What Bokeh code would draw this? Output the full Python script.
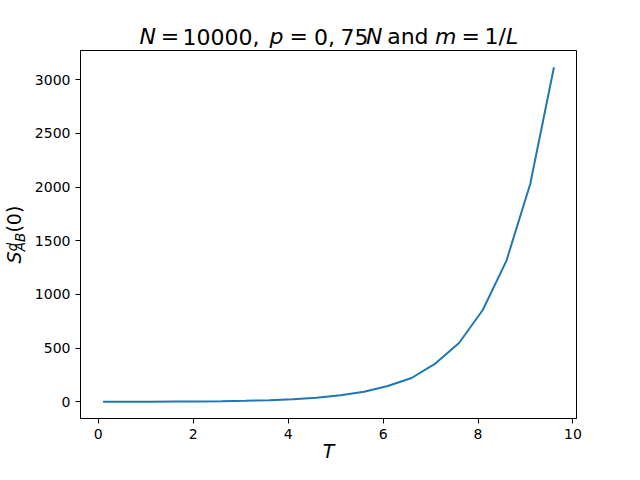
from math import pi
from bokeh.plotting import figure
from bokeh.models import Range1d, Label, FixedTicker
from bokeh.layouts import column, row
from bokeh.embed import file_html
from bokeh.resources import INLINE

# Data
T = [0.1, 0.6, 1.1, 1.6, 2.1, 2.6, 3.1, 3.6, 4.1, 4.6,
     5.1, 5.6, 6.1, 6.6, 7.1, 7.6, 8.1, 8.6, 9.1, 9.6]
S = [0.8, 1.2, 1.8, 2.8, 4.3, 6.7, 10.4, 16, 25, 39,
     61, 95, 148, 222, 356, 548, 855, 1315, 2028, 3115]
x_ticks = [0, 2, 4, 6, 8, 10]
y_ticks = [0, 500, 1000, 1500, 2000, 2500, 3000]

FONT = "DejaVu Sans"
W, H = 624, 464
TOP_H = 50      # strip holding the title
LEFT_W = 30     # strip holding the y label


def text_strip(width, height):
    f = figure(width=width, height=height, output_backend="svg", toolbar_location=None,
               x_axis_type=None, y_axis_type=None,
               x_range=Range1d(0, 1), y_range=Range1d(0, 1),
               min_border=0, min_border_left=0, min_border_right=0,
               min_border_top=0, min_border_bottom=0)
    f.title.visible = False
    f.outline_line_color = None
    f.background_fill_color = "white"
    f.border_fill_color = "white"
    return f


def lab(fig, text, x, y, size, italic, angle=0.0):
    fig.add_layout(Label(x=x, y=y, x_units="screen", y_units="screen", text=text,
                         text_font=FONT, text_font_size=size,
                         text_font_style="italic" if italic else "normal",
                         text_color="black", text_align="left",
                         text_baseline="alphabetic", angle=angle))


# ---- main plot
xspan = max(T) - min(T)
yspan = max(S) - min(S)
p = figure(width=W - LEFT_W, height=H - TOP_H, output_backend="svg", toolbar_location=None,
           x_range=Range1d(min(T) - 0.05 * xspan, max(T) + 0.05 * xspan),
           y_range=Range1d(min(S) - 0.05 * yspan, max(S) + 0.05 * yspan),
           min_border_left=50, min_border_right=48, min_border_top=0, min_border_bottom=45)
p.title.visible = False
p.background_fill_color = "white"
p.border_fill_color = "white"
p.outline_line_color = "black"
p.outline_line_width = 1
p.grid.visible = False

for ax in (p.xaxis[0], p.yaxis[0]):
    ax.axis_line_color = "black"
    ax.major_tick_line_color = "black"
    ax.major_tick_out = 5
    ax.major_tick_in = 0
    ax.minor_tick_line_color = None
    ax.major_label_text_font = FONT
    ax.major_label_text_font_size = "14px"
    ax.major_label_text_color = "black"
    ax.major_label_standoff = 5
p.xaxis[0].ticker = FixedTicker(ticks=x_ticks)
p.yaxis[0].ticker = FixedTicker(ticks=y_ticks)

p.xaxis[0].axis_label = "T"
p.xaxis[0].axis_label_text_font = FONT
p.xaxis[0].axis_label_text_font_style = "italic"
p.xaxis[0].axis_label_text_font_size = "19px"
p.xaxis[0].axis_label_text_color = "black"
p.xaxis[0].axis_label_standoff = -2

p.line(T, S, line_color="#1f77b4", line_width=2)

# ---- title strip: N = 10000, p = 0,75N and m = 1/L
tfig = text_strip(W, TOP_H)
title_runs = [("N", True, 139), ("=", False, 160.3), ("10000,", False, 182),
              ("p", True, 269), ("=", False, 289), ("0,", False, 313.5),
              ("75", False, 340), ("N", True, 365.5), ("and", False, 386.7),
              ("m", True, 434.5), ("=", False, 461), ("1/", False, 484),
              ("L", True, 505.5)]
for t, it, x in title_runs:
    lab(tfig, t, x, 14, "22px", it)

# ---- y label strip: S^d_AB(0), rotated
yfig = text_strip(LEFT_W, H - TOP_H)
lab(yfig, "S", 13.3, 155, "19px", True, pi / 2)
lab(yfig, "d", 11.8, 167.3, "13.5px", True, pi / 2)
lab(yfig, "AB", 19.8, 167.3, "13.5px", True, pi / 2)
lab(yfig, "(0)", 13.3, 185.9, "19px", False, pi / 2)

layout = column(tfig, row(yfig, p, spacing=0), spacing=0)
open("out.html", "w").write(file_html(layout, INLINE))
